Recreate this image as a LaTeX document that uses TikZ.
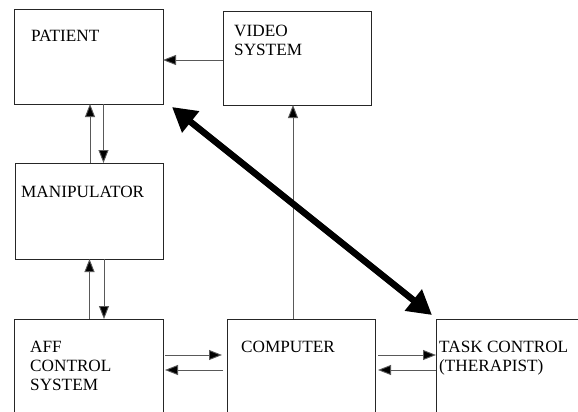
\documentclass[tikz,border=0pt]{standalone}
\usepackage{fontspec}
\setmainfont{Liberation Serif}
\usetikzlibrary{arrows.meta}

\begin{document}
\begin{tikzpicture}[x=1pt,y=-1pt,
        box/.style={draw=black!85,line width=0.9pt,outer sep=0pt,inner sep=0pt,anchor=north west},
        lbl/.style={anchor=base west,inner sep=0pt,align=left,font=\fontsize{17.2}{19}\selectfont},
        conn/.style={draw=black!65,line width=0.9pt,-{Triangle[length=13pt,width=10pt,fill=black]}},
        big/.style={line width=6.5pt,{Triangle[length=24pt,width=26pt]}-{Triangle[length=24pt,width=26pt]}}]
    \clip (0,0) rectangle (578,412);
    % boxes
    \node[box,minimum width=149pt,minimum height=95pt] (pat) at (14,9) {};
    \node[box,minimum width=148pt,minimum height=94pt] (vid) at (223,11) {};
    \node[box,minimum width=148pt,minimum height=96pt] (man) at (15,163) {};
    \node[box,minimum width=149pt,minimum height=120pt] (aff) at (14,319) {};
    \node[box,minimum width=148pt,minimum height=120pt] (cmp) at (227,319) {};
    \node[box,minimum width=164pt,minimum height=120pt] (tsk) at (436,319) {};
    % labels
    \node[lbl] (patT) at ([shift={(17pt,-33pt)}]pat.north west) {PATIENT};
    \node[lbl] (vidT) at ([shift={(11pt,-26pt)}]vid.north west) {VIDEO};
    \node[lbl] (vidT2) at ([yshift=-19pt]vidT.base west) {SYSTEM};
    \node[lbl] (manT) at ([shift={(6pt,-34pt)}]man.north west) {MANIPULATOR};
    \node[lbl] (affT) at ([shift={(16pt,-33pt)}]aff.north west) {AFF};
    \node[lbl] (affT2) at ([yshift=-19pt]affT.base west) {CONTROL};
    \node[lbl] (affT3) at ([yshift=-19pt]affT2.base west) {SYSTEM};
    \node[lbl] (cmpT) at ([shift={(14pt,-33pt)}]cmp.north west) {COMPUTER};
    \node[lbl] (tskT) at ([shift={(3pt,-33pt)}]tsk.north west) {TASK CONTROL};
    \node[lbl] (tskT2) at ([yshift=-19pt]tskT.base west) {(THERAPIST)};
    % connectors
    \draw[conn] ([yshift=-2pt]vid.west) -- ([yshift=-2pt]vid.west -| pat.east);
    \draw[conn] ([xshift=1pt]man.north) -- ([xshift=1pt]man.north |- pat.south);
    \draw[conn] ([xshift=15pt]pat.south) -- ([xshift=15pt]pat.south |- man.north);
    \draw[conn] ([xshift=1pt]aff.north) -- ([xshift=1pt]aff.north |- man.south);
    \draw[conn] ([xshift=15pt]man.south) -- ([xshift=15pt]man.south |- aff.north);
    \draw[conn,shorten >=5pt,shorten <=2pt] ([yshift=-36pt]aff.north east) -- ([yshift=-36pt]cmp.north west);
    \draw[conn,shorten >=2pt,shorten <=4pt] ([yshift=-51pt]cmp.north west) -- ([yshift=-51pt]aff.north east);
    \draw[conn,shorten <=3pt] ([yshift=-36pt]cmp.north east) -- ([yshift=-36pt]tsk.north west);
    \draw[conn,shorten >=3pt] ([yshift=-51pt]tsk.north west) -- ([yshift=-51pt]cmp.north east);
    \draw[conn] ([xshift=-8pt]cmp.north) -- ([xshift=-8pt]cmp.north |- vid.south);
    \draw[big] ([shift={(9pt,-3pt)}]pat.south east) -- ([shift={(-4pt,4pt)}]tsk.north west);
\end{tikzpicture}
\end{document}
